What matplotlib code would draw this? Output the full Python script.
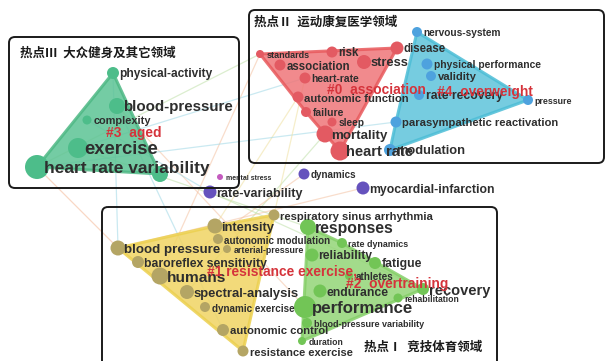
import matplotlib
matplotlib.use("Agg")
import matplotlib.pyplot as plt
from matplotlib.patches import Polygon, FancyBboxPatch

plt.rcParams['font.family'] = ['Liberation Sans', 'Noto Sans CJK SC', 'DejaVu Sans']

W, H = 605, 361
PT = 0.72  # points per pixel at dpi 100

# ---- keyword network -------------------------------------------------------
keywords = [
    # cluster #3
    "physical-activity", "blood-pressure", "complexity", "exercise",
    "heart rate variability", "",
    # cluster #0
    "standards", "risk", "disease", "association", "stress", "heart-rate",
    "autonomic function", "failure", "sleep", "mortality", "heart rate",
    # cluster #4
    "nervous-system", "physical performance", "validity", "rate recovery",
    "pressure", "parasympathetic reactivation", "modulation",
    # cluster #1
    "respiratory sinus arrhythmia", "intensity", "autonomic modulation",
    "arterial-pressure", "blood pressure", "baroreflex sensitivity", "humans",
    "spectral-analysis", "dynamic exercise", "autonomic control",
    "resistance exercise",
    # cluster #2
    "responses", "rate dynamics", "reliability", "fatigue", "athletes",
    "recovery", "endurance", "rehabilitation", "performance",
    "blood-pressure variability", "duration",
    # outside the main clusters
    "mental stress", "rate-variability", "dynamics", "myocardial-infarction",
]
kw_cluster = [3] * 6 + [0] * 11 + [4] * 7 + [1] * 11 + [2] * 11 + [6, 5, 5, 5]
kw_x = [113, 117, 87, 78, 37, 160,
        260, 332, 397, 280, 364, 305, 298, 306, 332, 325, 340,
        417, 427, 431, 419, 528, 396, 390,
        274, 215, 218, 227, 118, 138, 160, 187, 205, 223, 243,
        308, 342, 312, 375, 349, 423, 320, 398, 305, 307, 302,
        220, 210, 304, 363]
kw_y = [73, 106, 120, 148, 167, 174,
        54, 52, 48, 65, 62, 78, 97, 112, 122, 134, 151,
        32, 64, 76, 95, 100, 122, 150,
        215, 226, 239, 249, 248, 262, 276, 292, 307, 330, 351,
        227, 243, 255, 263, 276, 289, 291, 298, 307, 323, 341,
        177, 192, 174, 188]
# node radius (px) and label size (pt), both growing with keyword frequency
kw_radius = [6, 8, 4.5, 10, 12, 8,
             4, 5.5, 6.5, 5.5, 7, 5.5, 5.5, 5, 4.5, 8.5, 9.5,
             5, 5.5, 5, 5, 5, 5.5, 6,
             5.5, 7.5, 5, 4, 7.5, 6, 8.5, 7, 5, 6, 5.5,
             8, 5, 6.5, 6, 4, 6, 6.5, 4.5, 11, 5, 4,
             3, 6.5, 5.5, 6.5]
kw_fontsize = [8.6, 10.9, 7.9, 13.3, 12.5, 0,
               6.5, 8.3, 8.3, 8.3, 9.3, 7.4, 8.1, 7.4, 7.3, 9.6, 10.6,
               7.3, 7.4, 8.1, 8.8, 6.4, 8.1, 9.3,
               8.1, 9.4, 7.1, 6.4, 9.6, 8.8, 11.1, 9.4, 7.1, 8.1, 8.0,
               11.3, 6.4, 8.7, 8.8, 7.2, 10.5, 8.8, 6.2, 12.1, 6.5, 6.2,
               5.0, 9.1, 7.1, 8.8]

# co-occurrence links drawn faintly in the background
links = [
    ("heart rate variability", "blood pressure", "#f4b996"),
    ("physical-activity", "blood pressure", "#9fd8e6"),
    ("exercise", "responses", "#bfe0a8"),
    ("blood-pressure", "performance", "#f4c2a2"),
    ("complexity", "rate-variability", "#9fd8e6"),
    ("standards", "humans", "#f4c2a2"),
    ("autonomic function", "intensity", "#efe0a0"),
    ("mortality", "spectral-analysis", "#bfe0a8"),
    ("exercise", "heart-rate", "#9fd8e6"),
    ("heart rate variability", "standards", "#bfe0a8"),
    ("parasympathetic reactivation", "heart rate variability", "#9fd8e6"),
    ("myocardial-infarction", "blood pressure", "#f4c2a2"),
    ("dynamics", "humans", "#f4c2a2"),
    ("respiratory sinus arrhythmia", "heart-rate", "#efe0a0"),
    ("rate-variability", "recovery", "#bfe0a8"),
    ("blood-pressure", "autonomic control", "#9fd8e6"),
]

cluster_names = {3: "#3  aged", 0: "#0  association", 4: "#4  overweight",
                 1: "#1 resistance exercise,", 2: "#2  overtraining"}
cluster_name_xy = {3: (106, 133), 0: (327, 90), 4: (437, 92),
                   1: (207, 272), 2: (346, 284)}

# hotspot frames: title, left, top, right, bottom
frame_titles = ["热点Ⅲ  大众健身及其它领域", "热点Ⅱ  运动康复医学领域", "热点Ⅰ  竞技体育领域"]
frame_boxes = [(9, 37, 239, 188), (249, 10, 604, 163), (102, 207, 497, 375)]
frame_title_xy = [(20, 53), (254, 22), (364, 347)]

# ---- styling ---------------------------------------------------------------
node_color = {0: "#e35a62", 1: "#b4a564", 2: "#72c556", 3: "#4dbd8a",
              4: "#4ea2de", 5: "#6552bd", 6: "#c45bbf"}
hull_color = {0: "#ef7679", 1: "#f0d463", 2: "#93d577", 3: "#5cc394",
              4: "#5ec4db"}
hull_edge = {0: "#e8595c", 1: "#ecd04f", 2: "#85cf68", 3: "#4db884",
             4: "#4cbdd6"}
label_color = "#2e2e2e"
red = "#d5333b"


def convex_hull(points):
    pts = sorted(set(points))
    if len(pts) < 3:
        return pts

    def cross(o, a, b):
        return (a[0] - o[0]) * (b[1] - o[1]) - (a[1] - o[1]) * (b[0] - o[0])

    lower, upper = [], []
    for p in pts:
        while len(lower) >= 2 and cross(lower[-2], lower[-1], p) <= 0:
            lower.pop()
        lower.append(p)
    for p in reversed(pts):
        while len(upper) >= 2 and cross(upper[-2], upper[-1], p) <= 0:
            upper.pop()
        upper.append(p)
    return lower[:-1] + upper[:-1]


fig = plt.figure(figsize=(W / 100, H / 100), dpi=100)
ax = fig.add_axes([0, 0, 1, 1])
ax.set_xlim(0, W)
ax.set_ylim(H, 0)
ax.axis("off")

pos = {k: (x, y) for k, x, y in zip(keywords, kw_x, kw_y) if k}

# links
for a, b, c in links:
    (x0, y0), (x1, y1) = pos[a], pos[b]
    ax.plot([x0, x1], [y0, y1], color=c, lw=0.9, alpha=0.55, zorder=1,
            solid_capstyle="round")

# cluster hulls
for cid in hull_color:
    pts = [(x, y) for x, y, c in zip(kw_x, kw_y, kw_cluster) if c == cid]
    hull = convex_hull(pts)
    ax.add_patch(Polygon(hull, closed=True, facecolor=hull_color[cid],
                         edgecolor=hull_edge[cid], lw=2.2, alpha=0.85,
                         joinstyle="round", zorder=2))

# nodes
for x, y, r, c in zip(kw_x, kw_y, kw_radius, kw_cluster):
    ax.scatter([x], [y], s=(2 * r * PT) ** 2, color=node_color[c],
               edgecolors="none", zorder=3)

# keyword labels
for k, x, y, fs in zip(keywords, kw_x, kw_y, kw_fontsize):
    if not k:
        continue
    ax.text(x + 6.5, y + 1.5, k, fontsize=fs, fontweight="bold",
            color=label_color, ha="left", va="center", zorder=4)

# cluster names
for cid, txt in cluster_names.items():
    x, y = cluster_name_xy[cid]
    ax.text(x, y, txt, fontsize=9.9, fontweight="bold", color=red,
            ha="left", va="center", zorder=6)

# hotspot frames
for title, (l, t, r, b), (tx, ty) in zip(frame_titles, frame_boxes, frame_title_xy):
    ax.add_patch(FancyBboxPatch((l, t), r - l, b - t,
                                boxstyle="round,pad=0,rounding_size=6",
                                facecolor="none", edgecolor="#1a1a1a",
                                lw=1.4, zorder=5, clip_on=False))
    ax.text(tx, ty, title, fontsize=9, fontweight="bold", color="#1a1a1a",
            family=["Noto Sans CJK SC", "DejaVu Sans"],
            ha="left", va="center", zorder=6)

fig.savefig("out.png", dpi=100)
